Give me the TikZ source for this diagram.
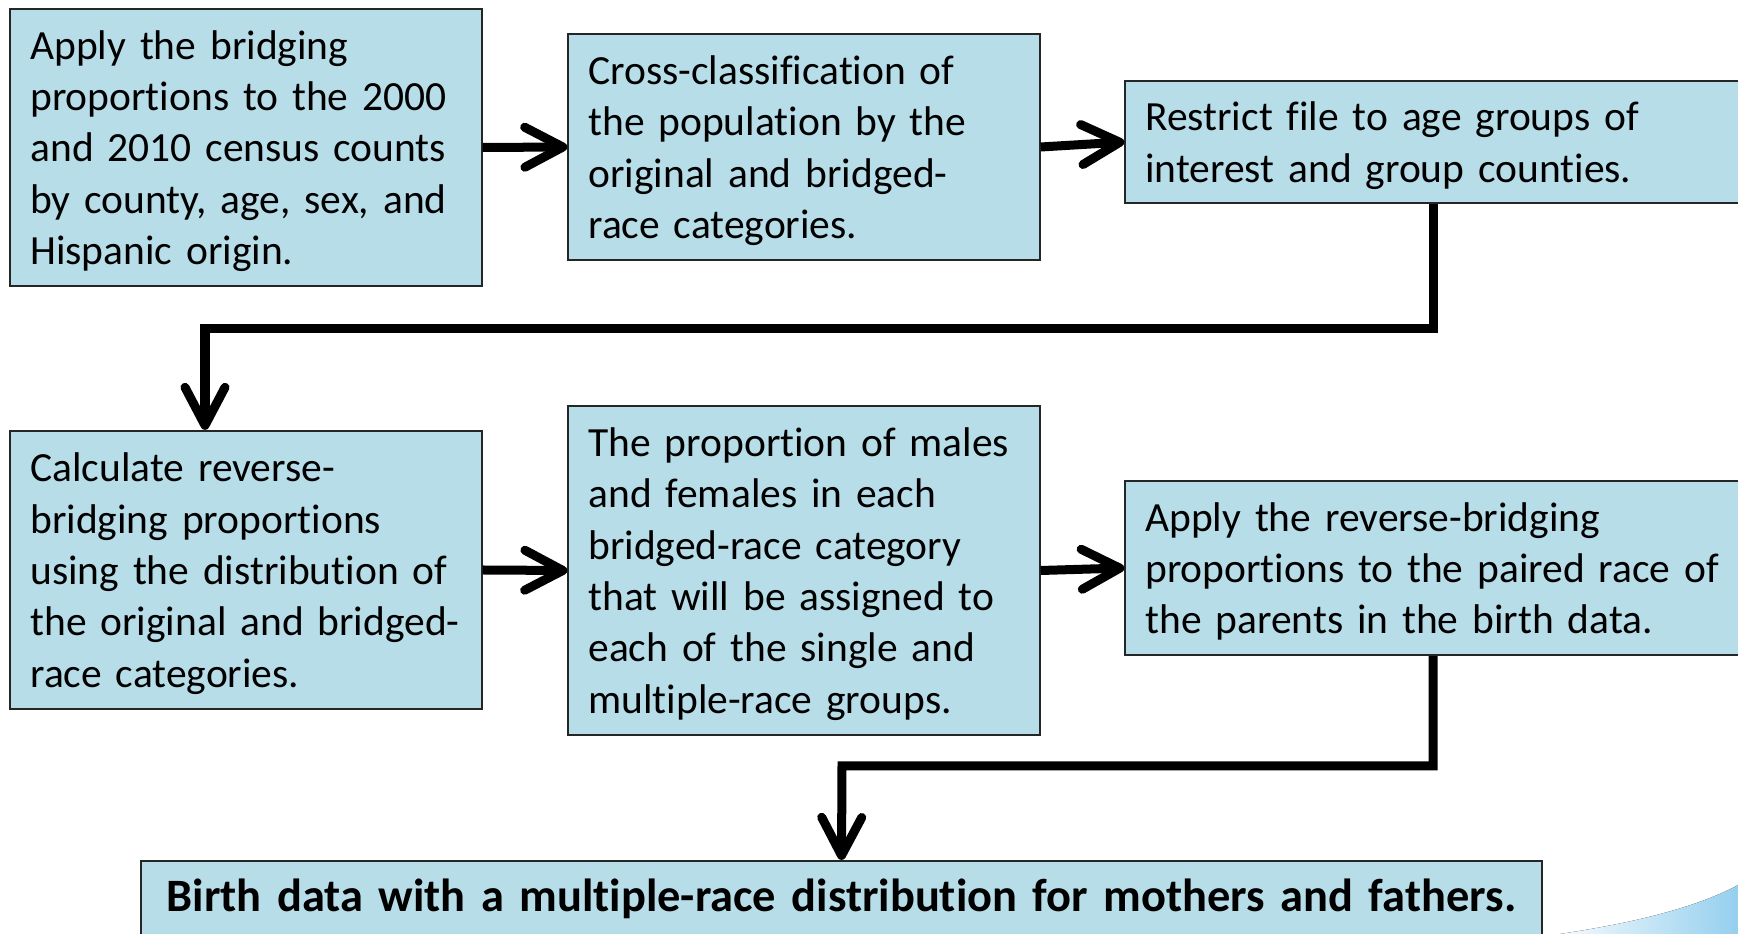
\documentclass[tikz,border=0pt]{standalone}
\usepackage{fontspec}
\setmainfont{Carlito}[Ligatures=NoCommon]
\usepackage{xcolor}
\usepackage{tikz}
\usetikzlibrary{arrows.meta}
\definecolor{boxblue}{HTML}{B7DDE8}
\definecolor{swoosh}{HTML}{94CFEE}

\begin{document}
\begin{tikzpicture}[x=0.01cm,y=-0.01cm,
  stage/.style={draw=black!85,line width=0.6pt,fill=boxblue,align=left,inner xsep=0.2cm,inner ysep=0pt,font=\fontsize{11.8}{14.6}\selectfont,execute at begin node=\strut},
  conn/.style={line width=0.09cm,-{Straight Barb[length=3.8mm,width=4mm,round]}}]
\clip (0,0) rectangle (1738,934);
% swoosh in the corner
\fill[left color=swoosh!10,right color=swoosh] (1560,934) .. controls (1640,922) and (1700,906) .. (1740,884) -- (1740,934) -- cycle;
% top row
\node[stage,text width=4.31cm,minimum height=2.77cm] (s1) at (246,147.5) {Apply the bridging\\proportions to the 2000\\and 2010 census counts\\by county, age, sex, and\\Hispanic origin.};
\node[stage,text width=4.31cm,minimum height=2.26cm] (s2) at (804,147) {Cross-classification of\\the population by the\\original and bridged-\\race categories.};
\node[stage,text width=5.75cm,minimum height=1.22cm] (s3) at (1433,142) {Restrict file to age groups of\\interest and group counties.};
% second row
\node[stage,text width=4.31cm,minimum height=2.78cm] (s4) at (246,570) {Calculate reverse-\\bridging proportions\\using the distribution of\\the original and bridged-\\race categories.};
\node[stage,text width=4.31cm,minimum height=3.29cm] (s5) at (804,570.5) {The proportion of males\\and females in each\\bridged-race category\\that will be assigned to\\each of the single and\\multiple-race groups.};
\node[stage,text width=5.75cm,minimum height=1.74cm] (s6) at (1433,568) {Apply the reverse-bridging\\proportions to the paired race of\\the parents in the birth data.};
% result
\node[stage,align=center,text width=13.61cm,minimum height=0.8cm,font=\fontsize{13.2}{15}\selectfont\bfseries] (out) at (841.5,901) {Birth data with a multiple-race distribution for mothers and fathers.};
\coordinate (k1) at (205,329);
\coordinate (k2) at (842,766);
\draw[conn] (s1.east) -- (s2.west);
\draw[conn] (s2.east) -- (s3.west);
\draw[conn] (s3.south) |- (k1) -- (k1 |- s4.north);
\draw[conn] (s4.east) -- (s5.west);
\draw[conn] (s5.east) -- (s6.west);
\draw[conn] (s6.south) |- (k2) -- (out.north);
\end{tikzpicture}
\end{document}
